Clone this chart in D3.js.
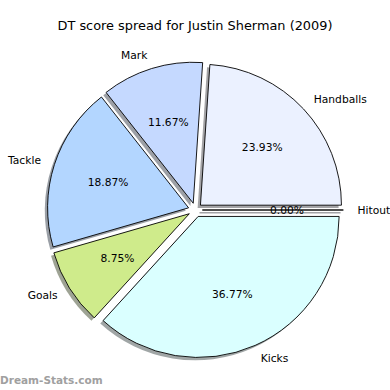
<!DOCTYPE html>
<html>
<head>
<meta charset="utf-8">
<script src="https://cdn.jsdelivr.net/npm/d3@7"></script>
<style>
  body { margin: 0; background: #fff; }
  svg { display: block; font-family: "DejaVu Sans", sans-serif; }
</style>
</head>
<body>
<script>
// data
var CATEGORIES = ["Hitout", "Handballs", "Mark", "Tackle", "Goals", "Kicks"];
var PERCENTS = [0.00, 23.93, 11.67, 18.87, 8.75, 36.77];
var COLORS = ["#e6e6ff", "#ebf1ff", "#c5d9ff", "#b3d6ff", "#cfeb8b", "#daffff"];
var TITLE = "DT score spread for Justin Sherman (2009)";

var WIDTH = 390, HEIGHT = 390;
var CX = 195.3, CY = 210, R = 141;
var EXPLODE = 0.05 * R;
var SHADOW_OFF = 0.02 * R;
var FONT = 10.7;

var svg = d3.select("body").append("svg")
    .attr("width", WIDTH)
    .attr("height", HEIGHT);

svg.append("text")
    .attr("x", WIDTH / 2)
    .attr("y", 30)
    .attr("text-anchor", "middle")
    .style("font-size", "12.9px")
    .text(TITLE);

var data = CATEGORIES.map(function(c, i) { return {name: c, value: PERCENTS[i], color: COLORS[i]}; });

// matplotlib style: start at 3 o'clock, go counterclockwise
var pie = d3.pie()
    .sort(null)
    .value(function(d) { return d.value; })
    .startAngle(Math.PI / 2)
    .endAngle(Math.PI / 2 - 2 * Math.PI);

var arc = d3.arc().innerRadius(0).outerRadius(R);
var arcs = pie(data);

function mid(a) { return (a.startAngle + a.endAngle) / 2; }
function offset(a, dist) {
  var m = mid(a);
  return [dist * Math.sin(m), -dist * Math.cos(m)];
}
function darker(c) {
  var k = d3.rgb(c);
  return d3.rgb(k.r * 0.3, k.g * 0.3, k.b * 0.3).toString();
}

var g = svg.append("g").attr("transform", "translate(" + CX + "," + CY + ")");

// shadows under everything
g.selectAll("path.shadow")
    .data(arcs)
    .enter().append("path")
    .attr("class", "shadow")
    .attr("transform", function(a) {
      var o = offset(a, EXPLODE);
      return "translate(" + (o[0] - SHADOW_OFF) + "," + (o[1] + SHADOW_OFF) + ")";
    })
    .attr("d", arc)
    .attr("fill", function(a) { return darker(a.data.color); })
    .attr("fill-opacity", 0.5)
    .attr("stroke", function(a) { return a.data.value === 0 ? darker(a.data.color) : "none"; })
    .attr("stroke-opacity", 0.5)
    .attr("stroke-width", 1.5);

g.selectAll("path.slice")
    .data(arcs)
    .enter().append("path")
    .attr("class", "slice")
    .attr("transform", function(a) {
      var o = offset(a, EXPLODE);
      return "translate(" + o[0] + "," + o[1] + ")";
    })
    .attr("d", arc)
    .attr("fill", function(a) { return a.data.color; })
    .attr("stroke", "#000")
    .attr("stroke-width", 0.9)
    .attr("stroke-linejoin", "round");

// category labels at 1.1 R
g.selectAll("text.label")
    .data(arcs)
    .enter().append("text")
    .attr("class", "label")
    .each(function(a) {
      var o = offset(a, EXPLODE);
      var p = offset(a, 1.1 * R);
      var x = o[0] + p[0], y = o[1] + p[1];
      d3.select(this)
        .attr("x", x)
        .attr("y", y)
        .attr("dy", "0.36em")
        .attr("text-anchor", x > 0 ? "start" : "end");
    })
    .style("font-size", FONT + "px")
    .text(function(a) { return a.data.name; });

// percentages at 0.6 R
g.selectAll("text.pct")
    .data(arcs)
    .enter().append("text")
    .attr("class", "pct")
    .each(function(a) {
      var o = offset(a, EXPLODE);
      var p = offset(a, 0.6 * R);
      d3.select(this)
        .attr("x", o[0] + p[0])
        .attr("y", o[1] + p[1])
        .attr("dy", "0.36em")
        .attr("text-anchor", "middle");
    })
    .style("font-size", FONT + "px")
    .text(function(a) { return a.data.value.toFixed(2) + "%"; });

// watermark
svg.append("text")
    .attr("x", 0)
    .attr("y", 384)
    .style("font-size", "10.5px")
    .style("font-weight", "bold")
    .attr("fill", "#a0a0a0")
    .text("Dream-Stats.com");
</script>
</body>
</html>
